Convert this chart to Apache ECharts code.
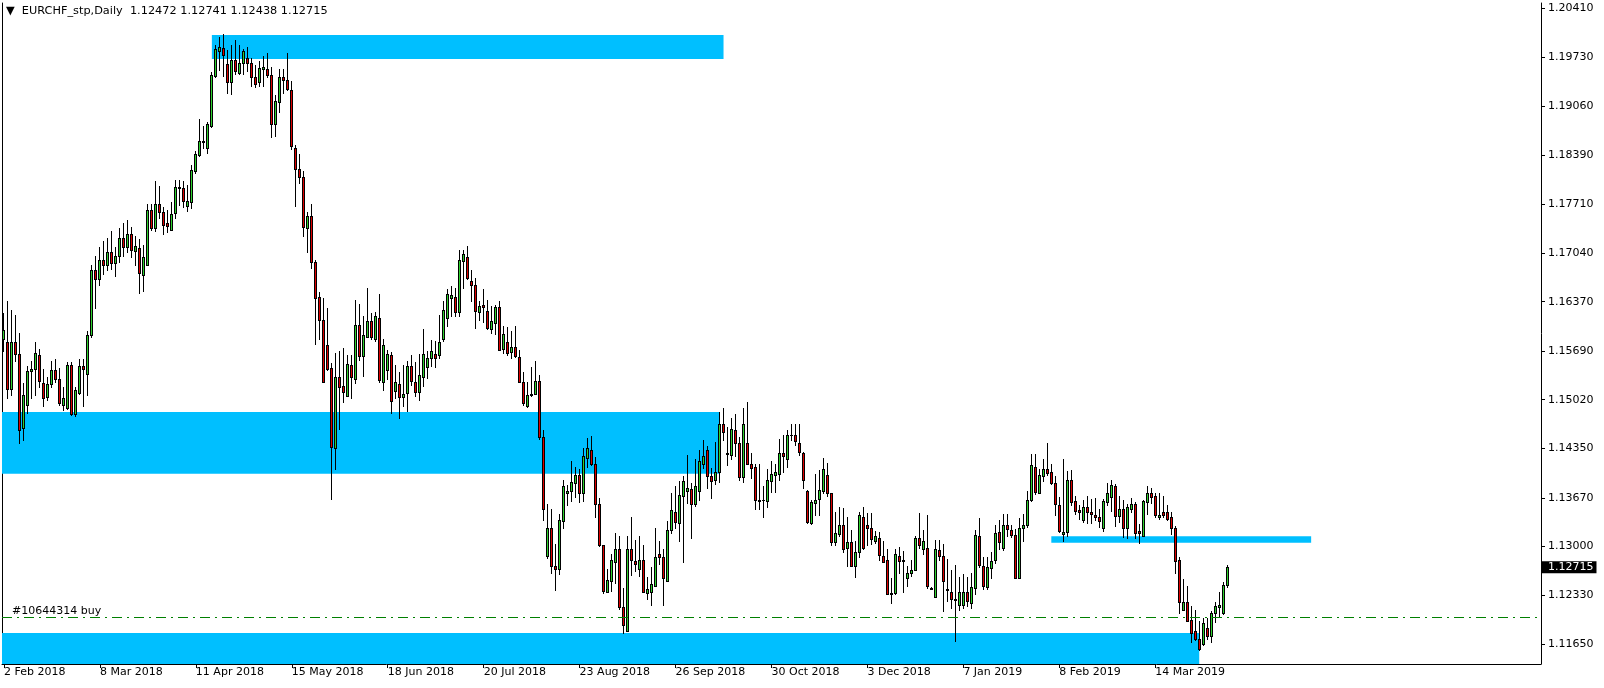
<!DOCTYPE html>
<html><head><meta charset="utf-8">
<script src="https://cdn.jsdelivr.net/npm/echarts@6/dist/echarts.min.js"></script>
<style>html,body{margin:0;padding:0;background:#fff}#chart{width:1604px;height:688px}</style>
</head><body><div id="chart"></div>
<script>
const symbolName = 'EURCHF_stp,Daily';
const startDate = '2018-02-02';
const closedDays = ['2018-12-25'];
const futureSlots = 78;

const opens = [
1.1586,1.1581,1.1517,1.1582,1.1565,1.1463,1.1495,1.1542,1.1544,1.1564,
1.1525,1.1506,1.1524,1.1543,1.1531,1.1495,1.1491,1.1550,1.1482,1.1511,
1.1549,1.1537,1.1591,1.1680,1.1668,1.1695,1.1688,1.1705,1.1690,1.1700,
1.1725,1.1712,1.1730,1.1707,1.1711,1.1674,1.1688,1.1763,1.1738,1.1772,
1.1760,1.1745,1.1736,1.1759,1.1795,1.1793,1.1769,1.1774,1.1817,1.1839,
1.1857,1.1848,1.1879,1.1948,1.1982,1.1986,1.1964,1.1940,1.1970,1.1952,
1.1966,1.1973,1.1965,1.1947,1.1939,1.1958,1.1957,1.1949,1.1882,1.1912,
1.1947,1.1942,1.1929,1.1849,1.1819,1.1808,1.1739,1.1755,1.1691,1.1643,
1.1612,1.1578,1.1546,1.1436,1.1534,1.1521,1.1507,1.1550,1.1531,1.1605,
1.1562,1.1589,1.1610,1.1585,1.1614,1.1526,1.1543,1.1563,1.1514,1.1524,
1.1506,1.1511,1.1548,1.1526,1.1513,1.1533,1.1547,1.1559,1.1565,1.1564,
1.1585,1.1614,1.1642,1.1644,1.1623,1.1693,1.1699,1.1666,1.1660,1.1623,
1.1632,1.1624,1.1600,1.1608,1.1629,1.1572,1.1581,1.1568,1.1574,1.1561,
1.1526,1.1493,1.1509,1.1510,1.1528,1.1451,1.1287,1.1326,1.1273,1.1269,
1.1335,1.1374,1.1376,1.1387,1.1398,1.1374,1.1422,1.1433,1.1414,1.1358,
1.1302,1.1237,1.1252,1.1279,1.1296,1.1216,1.1184,1.1297,1.1280,1.1269,
1.1282,1.1236,1.1237,1.1246,1.1289,1.1286,1.1252,1.1323,1.1348,1.1332,
1.1370,1.1376,1.1379,1.1358,1.1376,1.1414,1.1433,1.1397,1.1391,1.1402,
1.1469,1.1428,1.1426,1.1461,1.1442,1.1396,1.1443,1.1413,1.1410,1.1364,
1.1364,1.1362,1.1390,1.1399,1.1400,1.1429,1.1420,1.1454,1.1454,1.1443,
1.1428,1.1377,1.1333,1.1360,1.1366,1.1377,1.1398,1.1373,1.1306,1.1317,
1.1329,1.1298,1.1306,1.1273,1.1292,1.1341,1.1330,1.1326,1.1308,1.1312,
1.1287,1.1282,1.1234,1.1236,1.1287,1.1281,1.1257,1.1264,1.1268,1.1312,
1.1297,1.1298,1.1243,1.1230,1.1295,1.1287,1.1241,1.1238,1.1228,1.1220,
1.1220,1.1238,1.1222,1.1243,1.1315,1.1273,1.1244,1.1270,1.1281,1.1320,
1.1298,1.1329,1.1322,1.1316,1.1257,1.1325,1.1330,1.1364,1.1410,1.1374,
1.1397,1.1407,1.1402,1.1388,1.1357,1.1317,1.1320,1.1392,1.1362,1.1350,
1.1336,1.1354,1.1348,1.1344,1.1341,1.1326,1.1361,1.1368,1.1383,1.1342,
1.1352,1.1325,1.1352,1.1358,1.1321,1.1314,1.1361,1.1373,1.1369,1.1340,
1.1348,1.1348,1.1340,1.1326,1.1281,1.1212,1.1224,1.1199,1.1183,1.1172,
1.1166,1.1188,1.1177,1.1208,1.1216,1.1208,1.12472];

const highs = [
1.1621,1.1638,1.1626,1.1618,1.1594,1.1525,1.1548,1.1556,1.1582,1.1572,
1.1544,1.1534,1.1556,1.1558,1.1546,1.1519,1.1554,1.1554,1.1519,1.1558,
1.1558,1.1597,1.1688,1.1700,1.1712,1.1720,1.1725,1.1735,1.1712,1.1738,
1.1745,1.1750,1.1740,1.1728,1.1723,1.1715,1.1772,1.1772,1.1803,1.1796,
1.1767,1.1763,1.1774,1.1804,1.1804,1.1803,1.1797,1.1825,1.1845,1.1888,
1.1879,1.1885,1.1953,1.1991,1.2001,1.2005,1.1983,1.1990,1.1997,1.1990,
1.1985,1.1987,1.1973,1.1963,1.1968,1.1975,1.1979,1.1960,1.1921,1.1957,
1.1957,1.1980,1.1941,1.1853,1.1840,1.1817,1.1761,1.1771,1.1695,1.1651,
1.1642,1.1628,1.1553,1.1566,1.1569,1.1573,1.1563,1.1563,1.1639,1.1634,
1.1617,1.1656,1.1621,1.1623,1.1647,1.1585,1.1570,1.1568,1.1550,1.1540,
1.1550,1.1555,1.1563,1.1554,1.1565,1.1599,1.1569,1.1584,1.1583,1.1618,
1.1638,1.1655,1.1658,1.1656,1.1708,1.1708,1.1713,1.1680,1.1670,1.1638,
1.1654,1.1640,1.1631,1.1633,1.1638,1.1604,1.1602,1.1596,1.1603,1.1570,
1.1540,1.1527,1.1547,1.1556,1.1536,1.1460,1.1359,1.1352,1.1303,1.1345,
1.1392,1.1385,1.1417,1.1409,1.1406,1.1435,1.1449,1.1452,1.1423,1.1367,
1.1302,1.1269,1.1289,1.1318,1.1314,1.1243,1.1314,1.1341,1.1309,1.1314,
1.1302,1.1258,1.1272,1.1325,1.1308,1.1297,1.1335,1.1373,1.1383,1.1390,
1.1397,1.1426,1.1387,1.1420,1.1433,1.1447,1.1439,1.1408,1.1444,1.1485,
1.1491,1.1464,1.1477,1.1482,1.1451,1.1490,1.1499,1.1428,1.1414,1.1414,
1.1383,1.1407,1.1417,1.1413,1.1448,1.1453,1.1461,1.1468,1.1468,1.1468,
1.1430,1.1378,1.1364,1.1400,1.1405,1.1422,1.1415,1.1373,1.1347,1.1355,
1.1353,1.1340,1.1322,1.1308,1.1347,1.1354,1.1346,1.1346,1.1321,1.1320,
1.1308,1.1297,1.1257,1.1296,1.1299,1.1294,1.1273,1.1281,1.1315,1.1346,
1.1322,1.1343,1.1244,1.1309,1.1309,1.1304,1.1283,1.1268,1.1275,1.1258,
1.1262,1.1258,1.1263,1.1323,1.1339,1.1286,1.1286,1.1292,1.1330,1.1336,
1.1345,1.1345,1.1330,1.1324,1.1339,1.1345,1.1377,1.1427,1.1427,1.1406,
1.1421,1.1442,1.1414,1.1397,1.1368,1.1421,1.1404,1.1405,1.1370,1.1357,
1.1364,1.1370,1.1365,1.1367,1.1352,1.1366,1.1388,1.1391,1.1386,1.1369,
1.1364,1.1359,1.1367,1.1361,1.1331,1.1364,1.1383,1.1380,1.1374,1.1373,
1.1370,1.1357,1.1348,1.1328,1.1286,1.1255,1.1245,1.1218,1.1213,1.1198,
1.1201,1.1201,1.1211,1.1223,1.1238,1.1251,1.12741];

const lows = [
1.1569,1.1505,1.1508,1.1555,1.1443,1.1446,1.1484,1.1504,1.1508,1.1519,
1.1494,1.1502,1.1520,1.1526,1.1495,1.1488,1.1489,1.1481,1.1480,1.1510,
1.1493,1.1508,1.1588,1.1628,1.1660,1.1675,1.1680,1.1682,1.1672,1.1692,
1.1700,1.1705,1.1698,1.1687,1.1649,1.1652,1.1688,1.1736,1.1735,1.1752,
1.1730,1.1733,1.1736,1.1752,1.1770,1.1767,1.1762,1.1766,1.1814,1.1838,
1.1849,1.1842,1.1878,1.1946,1.1956,1.1948,1.1924,1.1923,1.1951,1.1950,
1.1951,1.1955,1.1934,1.1933,1.1934,1.1934,1.1946,1.1864,1.1865,1.1898,
1.1924,1.1929,1.1847,1.1769,1.1801,1.1728,1.1706,1.1683,1.1579,1.1586,
1.1526,1.1543,1.1366,1.1406,1.1462,1.1499,1.1507,1.1504,1.1525,1.1557,
1.1535,1.1588,1.1586,1.1583,1.1527,1.1515,1.1530,1.1484,1.1505,1.1477,
1.1493,1.1487,1.1522,1.1507,1.1501,1.1521,1.1532,1.1548,1.1547,1.1560,
1.1583,1.1604,1.1617,1.1617,1.1617,1.1656,1.1668,1.1638,1.1601,1.1612,
1.1609,1.1599,1.1594,1.1593,1.1571,1.1566,1.1563,1.1559,1.1561,1.1526,
1.1495,1.1492,1.1507,1.1510,1.1448,1.1336,1.1284,1.1263,1.1240,1.1262,
1.1326,1.1357,1.1363,1.1368,1.1361,1.1363,1.1409,1.1412,1.1341,1.1301,
1.1236,1.1237,1.1239,1.1250,1.1214,1.1181,1.1183,1.1261,1.1266,1.1259,
1.1238,1.1228,1.1220,1.1246,1.1276,1.1220,1.1252,1.1319,1.1325,1.1308,
1.1279,1.1360,1.1311,1.1356,1.1364,1.1408,1.1380,1.1367,1.1386,1.1389,
1.1446,1.1412,1.1421,1.1425,1.1391,1.1389,1.1413,1.1394,1.1352,1.1352,
1.1341,1.1355,1.1375,1.1375,1.1392,1.1403,1.1410,1.1446,1.1440,1.1426,
1.1380,1.1332,1.1331,1.1343,1.1343,1.1373,1.1370,1.1302,1.1302,1.1314,
1.1293,1.1273,1.1273,1.1258,1.1286,1.1297,1.1302,1.1303,1.1305,1.1282,
1.1278,1.1235,1.1222,1.1234,1.1263,1.1237,1.1245,1.1259,1.1267,1.1298,
1.1290,1.1243,1.1241,1.1230,1.1281,1.1211,1.1225,1.1215,1.1170,1.1212,
1.1215,1.1218,1.1215,1.1234,1.1272,1.1242,1.1241,1.1257,1.1277,1.1297,
1.1295,1.1314,1.1313,1.1257,1.1257,1.1308,1.1327,1.1363,1.1372,1.1373,
1.1390,1.1399,1.1386,1.1343,1.1320,1.1308,1.1314,1.1357,1.1345,1.1338,
1.1334,1.1332,1.1332,1.1337,1.1327,1.1321,1.1357,1.1349,1.1328,1.1334,
1.1313,1.1312,1.1348,1.1312,1.1305,1.1314,1.1345,1.1360,1.1341,1.1338,
1.1341,1.1336,1.1317,1.1264,1.1208,1.1212,1.1197,1.1169,1.1171,1.1158,
1.1165,1.1172,1.1168,1.1196,1.1203,1.1207,1.12438];

const closes = [
1.1598,1.1517,1.1582,1.1565,1.1461,1.1508,1.1542,1.1544,1.1567,1.1528,
1.1505,1.1524,1.1543,1.1530,1.1498,1.1504,1.1550,1.1482,1.1515,1.1549,
1.1545,1.1591,1.1680,1.1668,1.1695,1.1688,1.1705,1.1690,1.1700,1.1725,
1.1712,1.1730,1.1708,1.1713,1.1676,1.1698,1.1763,1.1739,1.1771,1.1761,
1.1742,1.1741,1.1758,1.1795,1.1793,1.1776,1.1776,1.1818,1.1840,1.1858,
1.1858,1.1882,1.1949,1.1985,1.1987,1.1977,1.1940,1.1970,1.1954,1.1966,
1.1982,1.1966,1.1946,1.1937,1.1959,1.1960,1.1949,1.1882,1.1913,1.1947,
1.1942,1.1930,1.1851,1.1820,1.1809,1.1740,1.1755,1.1692,1.1642,1.1612,
1.1526,1.1545,1.1437,1.1534,1.1520,1.1513,1.1551,1.1533,1.1605,1.1562,
1.1591,1.1610,1.1588,1.1617,1.1529,1.1577,1.1565,1.1500,1.1526,1.1506,
1.1510,1.1548,1.1528,1.1513,1.1536,1.1565,1.1560,1.1569,1.1560,1.1582,
1.1625,1.1648,1.1646,1.1623,1.1695,1.1702,1.1669,1.1660,1.1624,1.1631,
1.1630,1.1601,1.1610,1.1629,1.1571,1.1593,1.1567,1.1574,1.1562,1.1526,
1.1498,1.1509,1.1510,1.1528,1.1451,1.1351,1.1326,1.1273,1.1269,1.1336,
1.1383,1.1377,1.1389,1.1398,1.1374,1.1425,1.1435,1.1414,1.1359,1.1302,
1.1239,1.1254,1.1282,1.1297,1.1216,1.1192,1.1296,1.1282,1.1276,1.1282,
1.1238,1.1242,1.1249,1.1286,1.1286,1.1257,1.1323,1.1350,1.1334,1.1371,
1.1390,1.1380,1.1359,1.1383,1.1417,1.1425,1.1397,1.1390,1.1402,1.1468,
1.1458,1.1427,1.1462,1.1442,1.1396,1.1468,1.1413,1.1408,1.1364,1.1363,
1.1364,1.1391,1.1400,1.1403,1.1429,1.1425,1.1454,1.1453,1.1445,1.1430,
1.1391,1.1334,1.1361,1.1364,1.1378,1.1407,1.1374,1.1306,1.1318,1.1330,
1.1296,1.1306,1.1273,1.1292,1.1343,1.1298,1.1325,1.1310,1.1314,1.1288,
1.1279,1.1235,1.1236,1.1289,1.1280,1.1280,1.1264,1.1268,1.1312,1.1302,
1.1308,1.1246,1.1242,1.1297,1.1287,1.1252,1.1240,1.1228,1.1226,1.1238,
1.1238,1.1225,1.1244,1.1316,1.1275,1.1245,1.1272,1.1280,1.1319,1.1306,
1.1329,1.1324,1.1316,1.1257,1.1326,1.1330,1.1364,1.1412,1.1375,1.1399,
1.1407,1.1401,1.1388,1.1358,1.1321,1.1320,1.1392,1.1361,1.1349,1.1347,
1.1355,1.1348,1.1345,1.1341,1.1335,1.1362,1.1374,1.1384,1.1342,1.1351,
1.1325,1.1355,1.1359,1.1318,1.1319,1.1362,1.1373,1.1368,1.1343,1.1344,
1.1344,1.1338,1.1326,1.1280,1.1224,1.1224,1.1198,1.1181,1.1172,1.1159,
1.1194,1.1177,1.1209,1.1218,1.1219,1.1247,1.12715];

// right price scale tick labels
const priceTicks = [1.11650,1.12330,1.13000,1.13670,1.14350,1.15020,1.15690,
                    1.16370,1.17040,1.17710,1.18390,1.19060,1.19730,1.20410];
const yMin = 1.11382, yMax = 1.20482;

// supply/demand rectangles: bar index from/to, price top/bottom
const zoneFrom   = [52, -Infinity, 262, -Infinity];
const zoneTo     = [180, 179, 327, 299];
const zoneTop    = [1.2004, 1.1485, 1.1314, 1.1181];
const zoneBottom = [1.1971, 1.1400, 1.1305, yMin];

const orderLabel = '#10644314 buy';
const orderPrice = 1.12025;

const MONTHS = ['Jan','Feb','Mar','Apr','May','Jun','Jul','Aug','Sep','Oct','Nov','Dec'];
const barCount = opens.length;
const categories = [];
(function () {
  const d = new Date(startDate + 'T00:00:00Z');
  while (categories.length < barCount) {
    const wd = d.getUTCDay();
    const iso = d.toISOString().slice(0, 10);
    if (wd !== 0 && wd !== 6 && closedDays.indexOf(iso) < 0) {
      categories.push(d.getUTCDate() + ' ' + MONTHS[d.getUTCMonth()] + ' ' + d.getUTCFullYear());
    }
    d.setUTCDate(d.getUTCDate() + 1);
  }
  for (let k = 0; k < futureSlots; k++) categories.push('+' + (k + 1));
})();

const ohlc = opens.map((o, i) => [i, o, closes[i], lows[i], highs[i]]);
const last = barCount - 1;
const FONT = 'DejaVu Sans';
const BULL = '#2ed12e', BEAR = '#dc0000', EDGE = '#000000';
const showEvery = (idx) => idx < barCount && idx % 24 === 0;

function renderCandle(params, api) {
  const i = api.value(0), o = api.value(1), c = api.value(2), l = api.value(3), h = api.value(4);
  const pO = api.coord([i, o]);
  const x = Math.floor(pO[0]);
  const yO = Math.round(pO[1]);
  const yC = Math.round(api.coord([i, c])[1]);
  const yH = Math.round(api.coord([i, h])[1]);
  const yL = Math.round(api.coord([i, l])[1]);
  const top = Math.min(yO, yC), bot = Math.max(yO, yC);
  const kids = [
    {type: 'rect', shape: {x: x, y: yH, width: 1, height: Math.max(1, yL - yH + 1)}, style: {fill: EDGE}},
    {type: 'rect', shape: {x: x - 1, y: top, width: 3, height: bot - top + 1}, style: {fill: EDGE}}
  ];
  if (bot - top >= 2) {
    kids.push({type: 'rect', shape: {x: x, y: top + 1, width: 1, height: bot - top - 1},
               style: {fill: c >= o ? BULL : BEAR}});
  }
  return {type: 'group', children: kids};
}

const chart = echarts.init(document.getElementById('chart'), null, {renderer: 'canvas'});
chart.setOption({
  animation: false,
  backgroundColor: '#ffffff',
  title: {
    text: '\u25BC  ' + symbolName + '  ' + [opens[last], highs[last], lows[last], closes[last]].map(v => v.toFixed(5)).join(' '),
    left: 6, top: 6, padding: 0,
    textStyle: {fontFamily: FONT, fontSize: 11.3, fontWeight: 'normal', color: '#000'}
  },
  grid: {left: 2, right: 63, top: 3, bottom: 24, containLabel: false},
  xAxis: {
    type: 'category',
    data: categories,
    boundaryGap: true,
    axisLine: {show: true, lineStyle: {color: '#000', width: 1}},
    axisTick: {show: true, alignWithLabel: true, interval: showEvery, length: 4, lineStyle: {color: '#000'}},
    axisLabel: {show: true, interval: showEvery, align: 'left', margin: 3,
      fontFamily: FONT, fontSize: 11, color: '#000'},
    splitLine: {show: false}
  },
  yAxis: [{
    type: 'value', position: 'right', min: yMin, max: yMax, scale: true,
    axisLine: {show: true, lineStyle: {color: '#000', width: 1}},
    axisTick: {show: true, length: 4, customValues: priceTicks, lineStyle: {color: '#000'}},
    axisLabel: {show: true, customValues: priceTicks, margin: 7, formatter: v => v.toFixed(5),
      fontFamily: FONT, fontSize: 11, color: '#000'},
    splitLine: {show: false}
  }, {
    type: 'value', position: 'left', min: yMin, max: yMax, scale: true,
    axisLine: {show: true, lineStyle: {color: '#000', width: 1}},
    axisTick: {show: false}, axisLabel: {show: false}, splitLine: {show: false}
  }],
  series: [{
    type: 'custom',
    name: symbolName,
    data: ohlc,
    encode: {x: 0, y: [1, 2, 3, 4]},
    renderItem: renderCandle,
    clip: true,
    z: 3,
    markArea: {
      silent: true,
      z: 1,
      itemStyle: {color: '#00bfff', opacity: 1},
      data: zoneFrom.map((f, k) => [{xAxis: f, yAxis: zoneTop[k]}, {xAxis: zoneTo[k], yAxis: zoneBottom[k]}])
    },
    markLine: {
      silent: true, symbol: ['none', 'none'], animation: false, precision: 5,
      data: [
        {yAxis: orderPrice,
         lineStyle: {color: '#008000', width: 1, type: [10, 5, 2, 5]},
         label: {show: true, position: 'insideStartTop', formatter: orderLabel, distance: [10, 1],
                 fontFamily: FONT, fontSize: 11, color: '#000'}},
        {yAxis: closes[last],
         lineStyle: {color: 'rgba(0,0,0,0)', width: 0},
         label: {show: true, position: 'end', formatter: p => Number(p.value).toFixed(5), distance: 1,
                 backgroundColor: '#000', color: '#fff', padding: [0, 3, 0, 6], lineHeight: 12,
                 fontFamily: FONT, fontSize: 11}}
      ]
    }
  }]
});
</script></body></html>
